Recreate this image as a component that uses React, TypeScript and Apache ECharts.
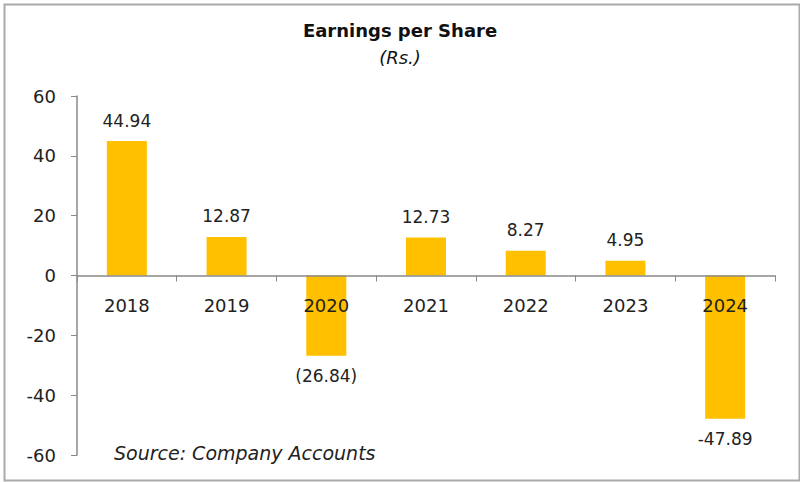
import React, { useEffect, useRef } from "react";
import * as echarts from "echarts";

const categories = ["2018", "2019", "2020", "2021", "2022", "2023", "2024"];
const eps = [44.94, 12.87, -26.84, 12.73, 8.27, 4.95, -47.89];
const labelTexts = ["44.94", "12.87", "(26.84)", "12.73", "8.27", "4.95", "-47.89"];

export default function App() {
  const ref = useRef<HTMLDivElement>(null);
  useEffect(() => {
    document.body.style.margin = "0";
    const chart = echarts.init(ref.current!, null, { renderer: "svg" });
    const font = "DejaVu Sans, sans-serif";
    const gridTop = 96;
    const gridBottom = 27;
    const plotH = 482 - gridTop - gridBottom;
    chart.setOption({
      animation: false,
      backgroundColor: "#ffffff",
      textStyle: { fontFamily: font },
      title: {
        text: "Earnings per Share",
        subtext: "(Rs.)",
        left: "center",
        top: 16,
        itemGap: 9,
        textStyle: { fontFamily: font, fontSize: 18, fontWeight: "bold", color: "#111" },
        subtextStyle: { fontFamily: font, fontSize: 18, fontStyle: "italic", color: "#111" },
      },
      grid: { left: 77, right: 25, top: gridTop, bottom: gridBottom },
      xAxis: {
        type: "category",
        data: categories,
        position: "bottom",
        offset: -plotH / 2,
        z: 10,
        axisLine: { onZero: false, lineStyle: { color: "#888", width: 1.5 } },
        axisTick: { show: true, alignWithLabel: false, length: 6, lineStyle: { color: "#888" } },
        axisLabel: { fontSize: 18, color: "#222", margin: 21, fontFamily: font },
      },
      yAxis: {
        type: "value",
        min: -60,
        max: 60,
        interval: 20,
        axisLine: { show: true, lineStyle: { color: "#888", width: 1.5 } },
        axisTick: { show: true, length: 6, lineStyle: { color: "#888" } },
        splitLine: { show: false },
        axisLabel: { fontSize: 18, color: "#222", margin: 21, fontFamily: font },
      },
      series: [
        {
          type: "bar",
          data: eps,
          barWidth: 40,
          z: 2,
          itemStyle: { color: "#FFC000" },
          label: {
            show: true,
            position: "outside",
            fontSize: 17,
            color: "#222",
            distance: 12,
            fontFamily: font,
            formatter: (p: any) => labelTexts[p.dataIndex],
          },
        },
      ],
      graphic: [
        {
          type: "rect",
          left: 2,
          top: 2,
          shape: { width: 795, height: 476 },
          style: { fill: "none", stroke: "#aaa", lineWidth: 2 },
          silent: true,
        },
        {
          type: "text",
          left: 114,
          top: 443,
          style: {
            text: "Source: Company Accounts",
            font: `italic 19px ${font}`,
            fill: "#222",
          },
        },
      ],
    });
    return () => chart.dispose();
  }, []);
  return <div ref={ref} style={{ width: 800, height: 482 }} />;
}
